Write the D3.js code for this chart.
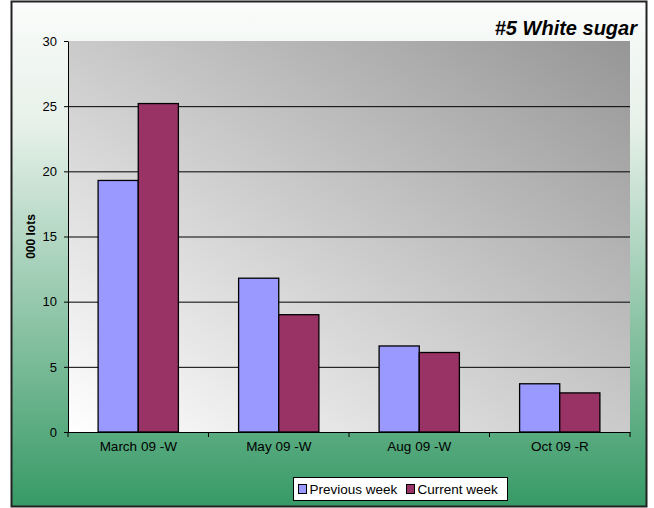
<!DOCTYPE html>
<html>
<head>
<meta charset="utf-8">
<script src="https://cdn.jsdelivr.net/npm/d3@7"></script>
<style>
  body { margin: 0; background: #fff; }
  svg { display: block; font-family: "Liberation Sans", Arial, sans-serif; }
</style>
</head>
<body>
<div id="chart"></div>
<script>
// data
const categories = ["March 09 -W", "May 09 -W", "Aug 09 -W", "Oct 09 -R"];
const previousWeek = [19.3, 11.8, 6.6, 3.7];
const currentWeek = [25.2, 9.0, 6.1, 3.0];
const seriesNames = ["Previous week", "Current week"];
const seriesColors = ["#9999ff", "#993366"];
const yTicks = [0, 5, 10, 15, 20, 25, 30];

const width = 654, height = 508;
const plot = { left: 68, top: 41, right: 630, bottom: 432 };

const svg = d3.select("#chart")
  .append("svg")
    .attr("width", width)
    .attr("height", height);

const defs = svg.append("defs");

// outer background: white at top fading to green
const bgGrad = defs.append("linearGradient")
    .attr("id", "bg").attr("x1", 0).attr("y1", 0).attr("x2", 0).attr("y2", 1);
bgGrad.append("stop").attr("offset", "0%").attr("stop-color", "#fbfcfb");
bgGrad.append("stop").attr("offset", "25%").attr("stop-color", "#e6f0e9");
bgGrad.append("stop").attr("offset", "100%").attr("stop-color", "#379a66");

// plot area: light bottom-left, dark grey top-right
const plotGrad = defs.append("linearGradient")
    .attr("id", "plotbg").attr("x1", 0).attr("y1", 1).attr("x2", 1).attr("y2", 0);
plotGrad.append("stop").attr("offset", "0%").attr("stop-color", "#ffffff");
plotGrad.append("stop").attr("offset", "100%").attr("stop-color", "#969696");

svg.append("rect")
    .attr("x", 11.5).attr("y", 1.5)
    .attr("width", 635).attr("height", 505)
    .attr("fill", "url(#bg)")
    .attr("stroke", "#222").attr("stroke-width", 2);

svg.append("rect")
    .attr("x", plot.left).attr("y", plot.top)
    .attr("width", plot.right - plot.left).attr("height", plot.bottom - plot.top)
    .attr("fill", "url(#plotbg)");

const x = d3.scaleBand()
    .domain(categories)
    .range([plot.left, plot.right]);

const xInner = d3.scaleBand()
    .domain(seriesNames)
    .range([0, x.bandwidth()])
    .paddingOuter(0.75)
    .paddingInner(0);

const y = d3.scaleLinear()
    .domain([0, 30])
    .range([plot.bottom, plot.top]);

// gridlines
svg.append("g")
  .selectAll("line")
  .data(yTicks.filter(t => t > 0 && t < 30))
  .join("line")
    .attr("x1", plot.left).attr("x2", plot.right)
    .attr("y1", d => y(d) + 0.5).attr("y2", d => y(d) + 0.5)
    .attr("stroke", "#000").attr("stroke-width", 1);

// bars
const rows = categories.map((c, i) => ({ cat: c, values: [previousWeek[i], currentWeek[i]] }));
const groups = svg.append("g")
  .selectAll("g")
  .data(rows)
  .join("g")
    .attr("transform", d => `translate(${x(d.cat)},0)`);

groups.selectAll("rect")
  .data(d => d.values.map((v, j) => ({ name: seriesNames[j], value: v, color: seriesColors[j] })))
  .join("rect")
    .attr("x", d => xInner(d.name))
    .attr("y", d => y(d.value))
    .attr("width", xInner.bandwidth())
    .attr("height", d => y(0) - y(d.value))
    .attr("fill", d => d.color)
    .attr("stroke", "#000").attr("stroke-width", 1.3);

// y axis
const yAxis = svg.append("g")
    .attr("transform", `translate(${plot.left},0)`)
    .call(d3.axisLeft(y).tickValues(yTicks).tickSize(4).tickSizeOuter(0));
yAxis.select(".domain").attr("stroke", "#000");
yAxis.selectAll("text").attr("font-size", 13).attr("fill", "#000")
    .attr("font-family", "Liberation Sans, Arial, sans-serif").attr("dx", "-4");

// x axis
const xAxis = svg.append("g")
    .attr("transform", `translate(0,${plot.bottom})`)
    .call(d3.axisBottom(x).tickSize(0).tickSizeOuter(0));
xAxis.select(".domain").attr("stroke", "#000");
xAxis.selectAll("text").attr("font-size", 13.5).attr("fill", "#000")
    .attr("font-family", "Liberation Sans, Arial, sans-serif").attr("dy", "1.2em");
// category separator ticks
svg.append("g")
  .selectAll("line")
  .data(categories.map(c => x(c)).concat([plot.right]))
  .join("line")
    .attr("x1", d => d).attr("x2", d => d)
    .attr("y1", plot.bottom).attr("y2", plot.bottom + 5)
    .attr("stroke", "#000");

// y axis title
svg.append("text")
    .attr("transform", `translate(35,${(plot.top + plot.bottom) / 2}) rotate(-90)`)
    .attr("text-anchor", "middle")
    .attr("font-size", 12).attr("font-weight", "bold")
    .text("000 lots");

// chart title
svg.append("text")
    .attr("x", 637).attr("y", 35)
    .attr("text-anchor", "end")
    .attr("font-size", 20).attr("font-weight", "bold").attr("font-style", "italic")
    .text("#5 White sugar");

// legend
const legend = svg.append("g").attr("transform", "translate(293.5,477.5)");
legend.append("rect")
    .attr("width", 214).attr("height", 23)
    .attr("fill", "#fff").attr("stroke", "#000");
const legendItems = legend.selectAll("g.item")
  .data(seriesNames)
  .join("g")
    .attr("class", "item")
    .attr("transform", (d, i) => `translate(${[5, 113][i]},0)`);
legendItems.append("rect")
    .attr("x", 0).attr("y", 7).attr("width", 8).attr("height", 9)
    .attr("fill", (d, i) => seriesColors[i]).attr("stroke", "#000");
legendItems.append("text")
    .attr("x", 11).attr("y", 16.5)
    .attr("font-size", 13.5)
    .text(d => d);
</script>
</body>
</html>
